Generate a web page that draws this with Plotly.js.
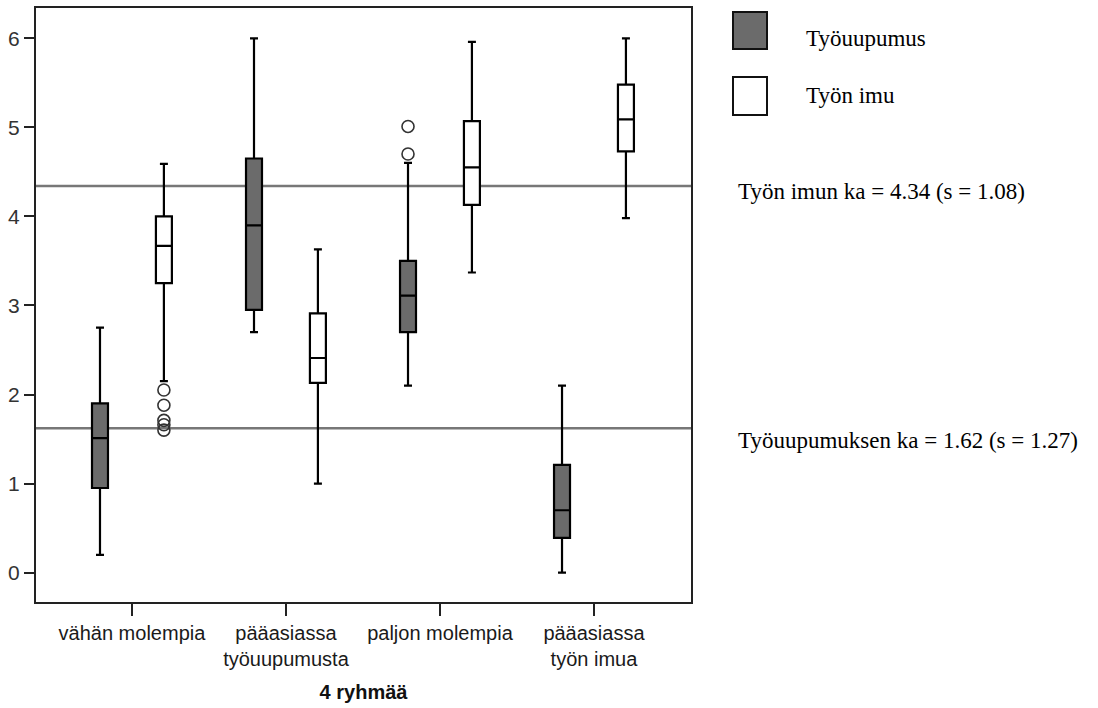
<!DOCTYPE html>
<html>
<head>
<meta charset="utf-8">
<script src="https://cdn.plot.ly/plotly-3.0.1.min.js"></script>
<style>html,body{margin:0;padding:0;background:#fff;}#chart{width:1098px;height:708px;}</style>
</head>
<body>
<div id="chart"></div>
<script>
// Categories (groups) and their tick labels
const categories = ['vähän molempia', 'pääasiassa työuupumusta', 'paljon molempia', 'pääasiassa työn imua'];
const tickLabels = ['vähän molempia', 'pääasiassa<br>työuupumusta', 'paljon molempia', 'pääasiassa<br>työn imua'];

// Työuupumus box statistics
const burnoutLow    = [0.20, 2.70, 2.10, 0.00];
const burnoutQ1     = [0.95, 2.95, 2.70, 0.39];
const burnoutMedian = [1.51, 3.90, 3.11, 0.70];
const burnoutQ3     = [1.90, 4.65, 3.50, 1.21];
const burnoutHigh   = [2.75, 6.00, 4.60, 2.10];

// Työn imu box statistics
const engageLow    = [2.15, 1.00, 3.37, 3.98];
const engageQ1     = [3.25, 2.13, 4.13, 4.73];
const engageMedian = [3.67, 2.41, 4.55, 5.09];
const engageQ3     = [4.00, 2.91, 5.07, 5.48];
const engageHigh   = [4.59, 3.63, 5.96, 6.00];

// Outliers
const burnoutOutlierX = ['paljon molempia', 'paljon molempia'];
const burnoutOutlierY = [5.01, 4.70];
const engageOutlierX = ['vähän molempia', 'vähän molempia', 'vähän molempia', 'vähän molempia', 'vähän molempia'];
const engageOutlierY = [2.05, 1.88, 1.71, 1.66, 1.60];

// Overall means
const seriesNames = ['Työuupumus', 'Työn imu'];
const engageMean = 4.34, engageSd = 1.08;
const burnoutMean = 1.62, burnoutSd = 1.27;

const darkFill = '#6b6b6b';
const gap = 0.17;

const traces = [
  {
    type: 'box', name: seriesNames[0], x: categories,
    lowerfence: burnoutLow, q1: burnoutQ1, median: burnoutMedian, q3: burnoutQ3, upperfence: burnoutHigh,
    fillcolor: darkFill, line: {color: '#000', width: 2.2}, boxpoints: false,
    offsetgroup: 'a', whiskerwidth: 0.5, hoverinfo: 'skip', showlegend: false
  },
  {
    type: 'box', name: seriesNames[1], x: categories,
    lowerfence: engageLow, q1: engageQ1, median: engageMedian, q3: engageQ3, upperfence: engageHigh,
    fillcolor: '#ffffff', line: {color: '#000', width: 2.2}, boxpoints: false,
    offsetgroup: 'b', whiskerwidth: 0.5, hoverinfo: 'skip', showlegend: false
  },
  {
    type: 'scatter', mode: 'markers', x: burnoutOutlierX, y: burnoutOutlierY,
    offsetgroup: 'a', orientation: 'v', showlegend: false, hoverinfo: 'skip',
    marker: {symbol: 'circle-open', size: 12, color: '#333', line: {width: 1.6, color: '#333'}}
  },
  {
    type: 'scatter', mode: 'markers', x: engageOutlierX, y: engageOutlierY,
    offsetgroup: 'b', orientation: 'v', showlegend: false, hoverinfo: 'skip',
    marker: {symbol: 'circle-open', size: 12, color: '#333', line: {width: 1.6, color: '#333'}}
  }
];

const L = 36, R = 407, T = 8, B = 106;
const W = 1098 - L - R, H = 708 - T - B;
const px = v => (v - L) / W;
const py = v => (708 - B - v) / H;

const serif = {family: 'Liberation Serif, Times New Roman, serif', size: 23, color: '#000'};

const layout = {
  width: 1098, height: 708,
  margin: {l: L, r: R, t: T, b: B, pad: 0},
  paper_bgcolor: '#fff', plot_bgcolor: '#fff',
  boxmode: 'group', boxgap: gap, boxgroupgap: 0.75,
  scattermode: 'group', scattergap: gap,
  showlegend: false,
  xaxis: {
    type: 'category', categoryarray: categories, categoryorder: 'array',
    range: [-0.623, 3.63], tickvals: categories, ticktext: tickLabels,
    ticks: 'outside', ticklen: 12, tickwidth: 2, tickcolor: '#222',
    showline: true, linewidth: 2, linecolor: '#222', mirror: true,
    showgrid: false, zeroline: false,
    tickfont: {family: 'Liberation Sans, Arial, sans-serif', size: 20, color: '#1a1a1a'},
    title: {text: '<b>4 ryhmää</b>', font: {family: 'Liberation Sans, Arial, sans-serif', size: 20, color: '#111'}, standoff: 16}
  },
  yaxis: {
    range: [-0.33, 6.34], tickvals: [0, 1, 2, 3, 4, 5, 6],
    ticks: 'outside', ticklen: 10, tickwidth: 2, tickcolor: '#222',
    showline: true, linewidth: 2, linecolor: '#222', mirror: true,
    showgrid: false, zeroline: false,
    tickfont: {family: 'Liberation Sans, Arial, sans-serif', size: 21, color: '#333'}
  },
  shapes: [
    {type: 'line', xref: 'paper', x0: 0, x1: 1, yref: 'y', y0: engageMean, y1: engageMean,
     line: {color: '#777', width: 2.5}, layer: 'below'},
    {type: 'line', xref: 'paper', x0: 0, x1: 1, yref: 'y', y0: burnoutMean, y1: burnoutMean,
     line: {color: '#777', width: 2.5}, layer: 'below'},
    {type: 'rect', xref: 'paper', yref: 'paper', x0: px(733), x1: px(767), y0: py(49), y1: py(12),
     fillcolor: darkFill, line: {color: '#111', width: 2}},
    {type: 'rect', xref: 'paper', yref: 'paper', x0: px(733), x1: px(767), y0: py(115), y1: py(77),
     fillcolor: '#fff', line: {color: '#111', width: 2}}
  ],
  annotations: [
    {xref: 'paper', yref: 'paper', x: px(804), y: py(38), xanchor: 'left', yanchor: 'middle',
     text: seriesNames[0], showarrow: false, font: serif},
    {xref: 'paper', yref: 'paper', x: px(804), y: py(95), xanchor: 'left', yanchor: 'middle',
     text: seriesNames[1], showarrow: false, font: serif},
    {xref: 'paper', yref: 'paper', x: px(736), y: py(191), xanchor: 'left', yanchor: 'middle',
     text: 'Työn imun ka = ' + engageMean.toFixed(2) + ' (s = ' + engageSd.toFixed(2) + ')', showarrow: false, font: serif},
    {xref: 'paper', yref: 'paper', x: px(736), y: py(440), xanchor: 'left', yanchor: 'middle',
     text: 'Työuupumuksen ka = ' + burnoutMean.toFixed(2) + ' (s = ' + burnoutSd.toFixed(2) + ')', showarrow: false, font: serif}
  ]
};

Plotly.newPlot('chart', traces, layout, {staticPlot: true, displayModeBar: false});
</script>
</body>
</html>
